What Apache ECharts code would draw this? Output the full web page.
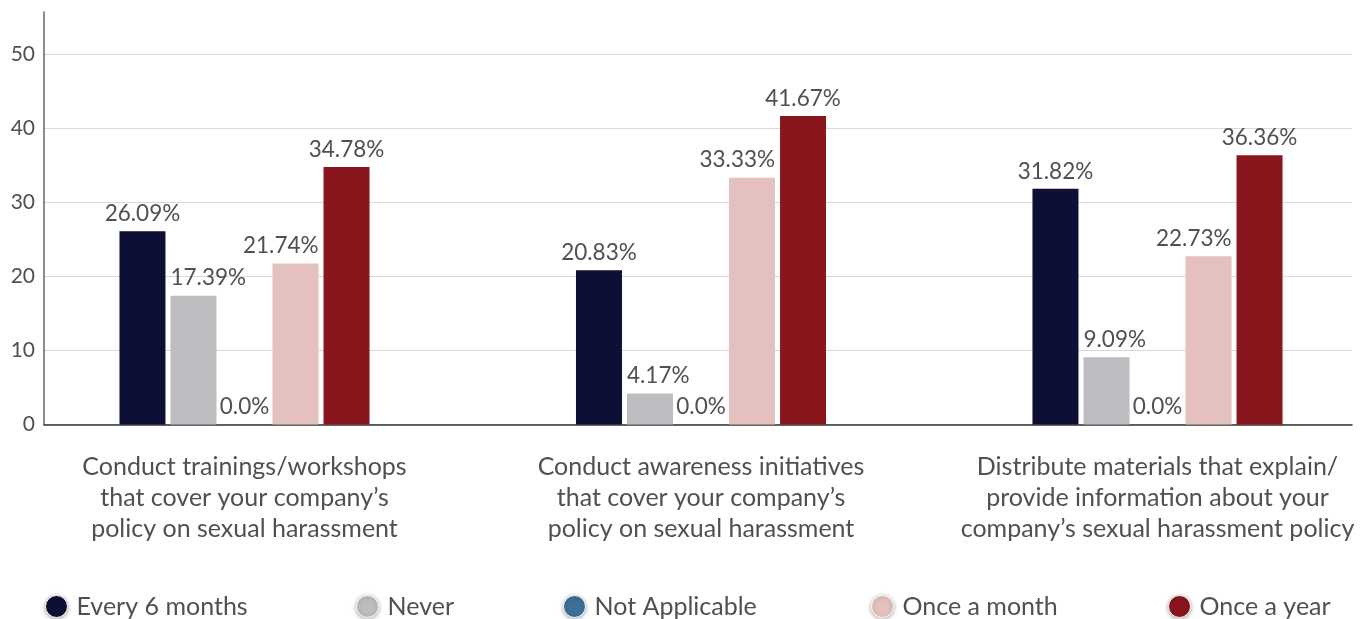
<!DOCTYPE html>
<html>
<head>
<meta charset="utf-8">
<script src="https://cdn.jsdelivr.net/npm/echarts@6/dist/echarts.min.js"></script>
<style>
html,body{margin:0;padding:0;background:#fff;}
#chart{width:1362px;height:619px;}
</style>
</head>
<body>
<div id="chart"></div>
<script>
var categories = [
  "Conduct trainings/workshops\nthat cover your company\u2019s\npolicy on sexual harassment",
  "Conduct awareness initiatives\nthat cover your company\u2019s\npolicy on sexual harassment",
  "Distribute materials that explain/\nprovide information about your\ncompany\u2019s sexual harassment policy"
];
var seriesNames = ["Every 6 months", "Never", "Not Applicable", "Once a month", "Once a year"];
var every6Months = [26.09, 20.83, 31.82];
var never = [17.39, 4.17, 9.09];
var notApplicable = [0, 0, 0];
var onceAMonth = [21.74, 33.33, 22.73];
var onceAYear = [34.78, 41.67, 36.36];
var yTicks = [0, 10, 20, 30, 40, 50];

var seriesValues = [every6Months, never, notApplicable, onceAMonth, onceAYear];
var colors = ["#0e0f35", "#bcbdc0", "#3e6f96", "#e4c1be", "#8a161d"];
var labelAlign = ["center", "left", "center", "right", "center"];
var labelShift = [0, -23, 0, 23, 0];
var FONT = "Lato";
var TEXT = "#505050";

function fmt(p) {
  var v = p.value;
  var s = Number.isInteger(v) ? v.toFixed(1) : String(v);
  return s + "%";
}

var series = seriesNames.map(function (name, i) {
  return {
    name: name,
    type: "bar",
    xAxisIndex: 1,
    yAxisIndex: 1,
    data: seriesValues[i],
    barWidth: 46,
    barGap: "10.9%",
    itemStyle: { color: colors[i] },
    label: {
      show: true,
      position: "top",
      distance: 6,
      align: labelAlign[i],
      offset: [labelShift[i], 0],
      formatter: fmt,
      fontFamily: FONT,
      fontSize: 22.5,
      color: TEXT
    }
  };
});

var legendLeft = [45, 356, 563, 871, 1168];
var legends = seriesNames.map(function (name, i) {
  return {
    data: [name],
    left: legendLeft[i],
    top: 594,
    padding: 0,
    icon: "circle",
    itemWidth: 30,
    itemHeight: 22,
    itemStyle: { shadowBlur: 4, shadowColor: "rgba(0,0,0,0.35)", shadowOffsetY: 1, borderColor: "#fff", borderWidth: 1 },
    textStyle: { fontFamily: FONT, fontSize: 25, color: TEXT },
    selectedMode: false
  };
});

var splitColors = yTicks.map(function () { return "#d9d9d9"; });
splitColors.push("rgba(0,0,0,0)");

var option = {
  animation: false,
  color: colors,
  legend: legends,
  grid: [
    { left: 44, right: 10, top: 12, bottom: 194.5, outerBoundsMode: "none" },
    { left: 16.25, width: 1369.5, top: 12, bottom: 194.5, outerBoundsMode: "none", containLabel: false }
  ],
  xAxis: [
    {
      type: "category",
      gridIndex: 0,
      data: categories,
      axisLine: { show: true, lineStyle: { color: "#333", width: 1.5 } },
      axisTick: { show: false },
      axisLabel: { show: false },
      splitLine: { show: false }
    },
    {
      type: "category",
      gridIndex: 1,
      data: categories,
      axisLine: { show: false },
      axisTick: { show: false },
      axisLabel: {
        show: true,
        interval: 0,
        margin: 27,
        fontFamily: FONT,
        fontSize: 25,
        lineHeight: 31,
        color: TEXT,
        align: "center"
      }
    }
  ],
  yAxis: [
    {
      type: "value",
      gridIndex: 0,
      min: 0,
      max: 55.7,
      interval: 10,
      axisLine: { show: true, lineStyle: { color: "#666", width: 1.5 } },
      axisTick: { show: false },
      axisLabel: {
        showMaxLabel: false,
        margin: 9,
        fontFamily: FONT,
        fontSize: 21,
        color: TEXT
      },
      splitLine: { show: true, lineStyle: { color: splitColors, width: 1 } }
    },
    {
      type: "value",
      gridIndex: 1,
      min: 0,
      max: 55.7,
      interval: 10,
      show: false,
      splitLine: { show: false }
    }
  ],
  series: series
};

var chart = echarts.init(document.getElementById("chart"), null, { renderer: "canvas" });
chart.setOption(option);
</script>
</body>
</html>
